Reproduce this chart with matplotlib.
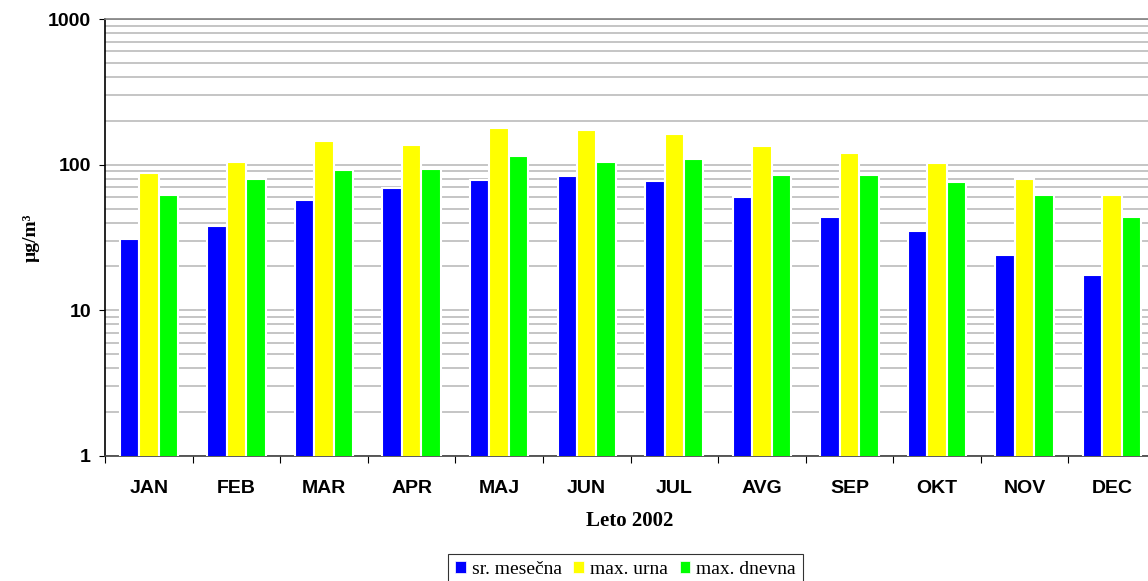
import numpy as np
import matplotlib
matplotlib.use("Agg")
from matplotlib import pyplot as plt
from matplotlib.ticker import LogLocator, NullFormatter, FixedLocator

months = ['JAN', 'FEB', 'MAR', 'APR', 'MAJ', 'JUN', 'JUL', 'AVG', 'SEP', 'OKT', 'NOV', 'DEC']
sr_mesecna = [31, 38, 57, 69, 78, 84, 77, 60, 44, 35, 24, 17.4]
max_urna = [88, 104, 145, 136, 178, 173, 162, 134, 120, 102, 80, 62]
max_dnevna = [62, 80, 92, 94, 115, 104, 110, 85, 85, 76, 62, 44]

series = [('sr. mesečna', sr_mesecna, '#0000FF'),
          ('max. urna', max_urna, '#FFFF00'),
          ('max. dnevna', max_dnevna, '#00FF00')]

fig = plt.figure(figsize=(11.48, 5.81), dpi=100)
ax = fig.add_axes([105/1148, 1-456/581, 1051/1148, 437/581])

x = np.arange(len(months))
step = 0.222
for k, (name, vals, col) in enumerate(series):
    ax.bar(x + (k-1)*step, vals, width=step, color=col, edgecolor='white',
           linewidth=1.5, label=name, zorder=3)

ax.set_yscale('log')
ax.set_ylim(1, 1000)
ax.set_xlim(-0.5, 11.5)

# grid on every log step
ax.yaxis.set_major_locator(FixedLocator([1, 10, 100, 1000]))
ax.yaxis.set_minor_locator(LogLocator(base=10, subs=np.arange(2, 10)))
ax.yaxis.set_minor_formatter(NullFormatter())
ax.set_yticklabels(['1', '10', '100', '1000'])
ax.grid(True, axis='y', which='both', color='#c0c0c0', linewidth=1.3, zorder=1)
ax.tick_params(axis='y', which='minor', length=0)
ax.tick_params(axis='y', which='major', length=4, direction='out', pad=6,
               labelsize=14)

ax.set_xticks(np.arange(-0.5, 12, 1))
ax.set_xticklabels([])
ax.set_xticks(x, minor=True)
ax.set_xticklabels(months, minor=True)
ax.tick_params(axis='x', which='major', length=5, direction='out')
ax.tick_params(axis='x', which='minor', length=0, pad=17, labelsize=14)

for lab in ax.get_xticklabels(minor=True) + ax.get_yticklabels():
    lab.set_fontfamily('Liberation Sans')
    lab.set_fontweight('bold')

ax.spines['left'].set_color('black')
ax.spines['bottom'].set_color('#404040')
ax.spines['top'].set_color('#808080')
ax.spines['right'].set_visible(False)
ax.spines['left'].set_linewidth(1.2)
ax.spines['bottom'].set_linewidth(1.2)
ax.spines['top'].set_linewidth(1.2)

fig.text(630/1148, 1-521/581, 'Leto 2002', ha='center', va='center',
         family='Liberation Serif', fontweight='bold', fontsize=15)
fig.text(31/1148, 1-238/581, 'µg/m³', ha='center', va='center', rotation=90,
         family='Liberation Serif', fontweight='bold', fontsize=14)

leg = fig.legend(loc='upper center', bbox_to_anchor=(625.5/1148, 1-554/581), ncol=3,
                 frameon=True, fancybox=False, edgecolor='black',
                 prop={'family': 'Liberation Serif', 'size': 14},
                 handlelength=0.55, handleheight=0.55, handletextpad=0.3,
                 columnspacing=0.6, borderpad=0.35, borderaxespad=0)
leg.get_frame().set_linewidth(0.8)
for h in leg.legend_handles:
    h.set_linewidth(0.5)

fig.savefig('out.png', dpi=100)
